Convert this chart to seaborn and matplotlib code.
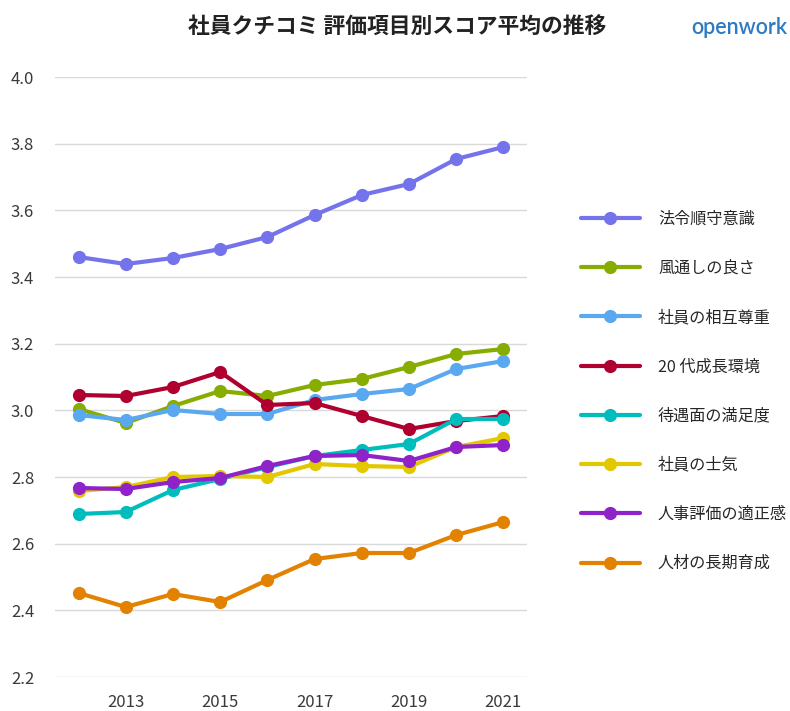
import pandas as pd
import seaborn as sns
import matplotlib.pyplot as plt

years = list(range(2012, 2022))

compliance = [3.460, 3.439, 3.457, 3.484, 3.520, 3.586, 3.646, 3.679, 3.754, 3.790]
openness = [3.004, 2.962, 3.013, 3.058, 3.043, 3.076, 3.094, 3.130, 3.169, 3.184]
respect = [2.986, 2.971, 3.001, 2.989, 2.989, 3.031, 3.049, 3.064, 3.124, 3.148]
growth_20s = [3.046, 3.043, 3.070, 3.115, 3.016, 3.022, 2.983, 2.944, 2.968, 2.983]
pay = [2.689, 2.695, 2.761, 2.794, 2.830, 2.863, 2.881, 2.899, 2.974, 2.974]
morale = [2.758, 2.770, 2.800, 2.803, 2.800, 2.839, 2.833, 2.830, 2.890, 2.917]
appraisal = [2.767, 2.764, 2.785, 2.797, 2.833, 2.863, 2.866, 2.848, 2.890, 2.896]
training = [2.452, 2.410, 2.449, 2.425, 2.491, 2.554, 2.572, 2.572, 2.626, 2.665]

labels = ["法令順守意識", "風通しの良さ", "社員の相互尊重", "20 代成長環境",
          "待遇面の満足度", "社員の士気", "人事評価の適正感", "人材の長期育成"]
series = [compliance, openness, respect, growth_20s, pay, morale, appraisal, training]
colors = ["#7473ec", "#87ad00", "#5aa8f0", "#b0002f", "#00bdbd", "#e3c800", "#8f22c9", "#e38100"]

rows = []
for lab, vals in zip(labels, series):
    for y, v in zip(years, vals):
        rows.append({"year": y, "score": v, "item": lab})
df = pd.DataFrame(rows)

sns.set_style("white")
plt.rcParams['font.family'] = ['Noto Sans CJK JP', 'DejaVu Sans']

fig = plt.figure(figsize=(7.9, 7.11), dpi=100)
ax = fig.add_axes([0.0696, 0.0478, 0.5975, 0.8439])

sns.lineplot(data=df, x="year", y="score", hue="item", hue_order=labels,
             palette=colors, marker="o", markersize=9.5, linewidth=3,
             markeredgewidth=0, ax=ax)

ax.set_xlim(2011.5, 2021.5)
ax.set_ylim(2.2, 4.0)
ax.set_yticks([2.2, 2.4, 2.6, 2.8, 3.0, 3.2, 3.4, 3.6, 3.8, 4.0])
ax.set_xticks([2013, 2015, 2017, 2019, 2021])
ax.grid(axis="y", color="#d9d9d9", linewidth=1)
ax.set_axisbelow(True)
for s in ax.spines.values():
    s.set_visible(False)
ax.tick_params(axis="y", length=0, pad=15, labelsize=12, labelcolor="#3a3a3a")
ax.tick_params(axis="x", length=0, pad=12, labelsize=12, labelcolor="#3a3a3a")
ax.set_xlabel("")
ax.set_ylabel("")

handles, _ = ax.get_legend_handles_labels()
ax.legend(handles, labels, loc="upper left", bbox_to_anchor=(1.1, 0.788),
          frameon=False, fontsize=11.6, handlelength=3.7, handletextpad=1.1,
          labelspacing=2.0, borderaxespad=0)

fig.text(0.503, 0.962, "社員クチコミ 評価項目別スコア平均の推移", ha="center", va="center",
         fontsize=15.7, fontweight="bold", color="#222222")
fig.text(0.997, 0.962, "openwork", ha="right", va="center", fontsize=15.5,
         fontweight="semibold", color="#2e7bc4", family=["Lato", "DejaVu Sans"])

fig.savefig("out.png", dpi=100)
